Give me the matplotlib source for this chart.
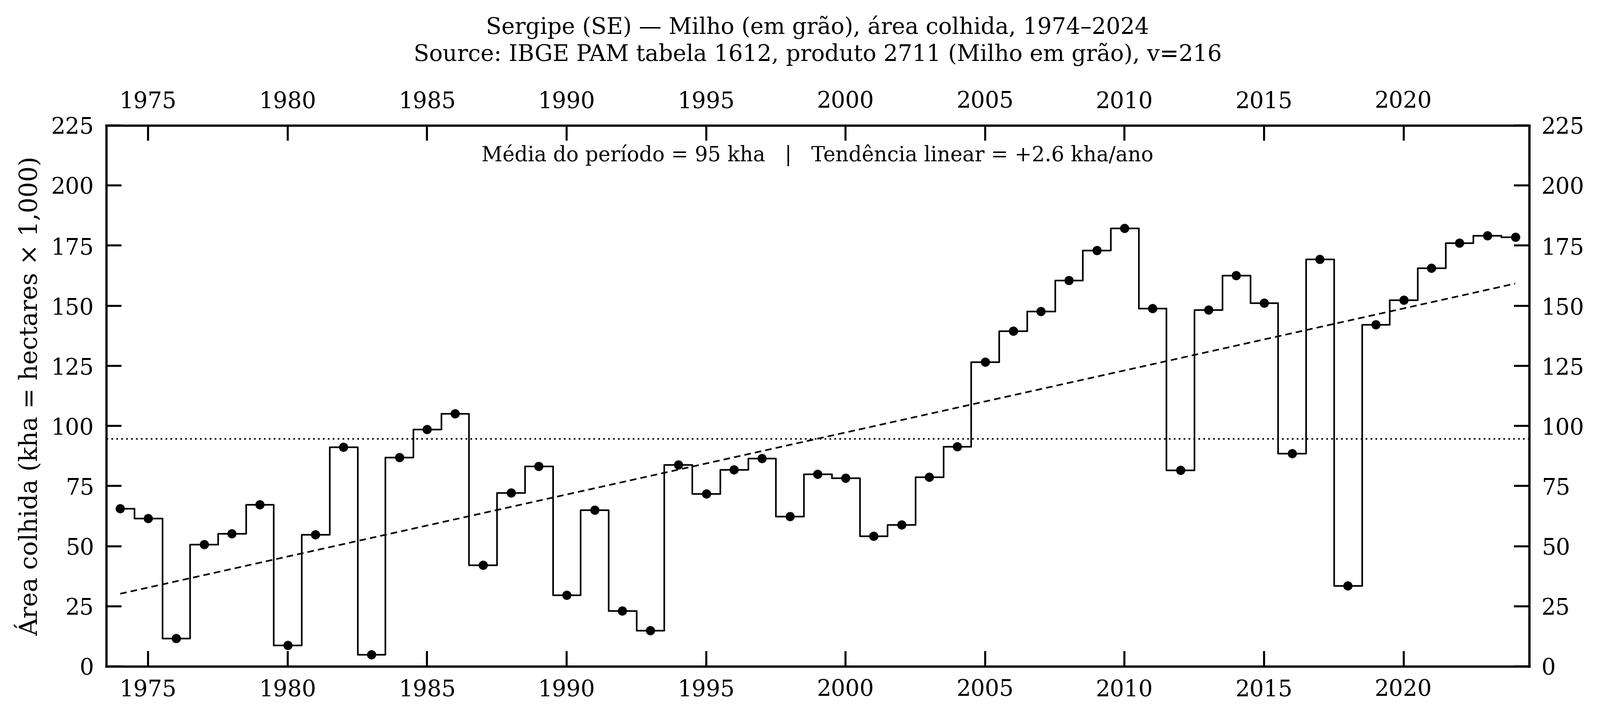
import numpy as np
import matplotlib
matplotlib.use("Agg")
import matplotlib.pyplot as plt

years = list(range(1974, 2025))
area_kha = [
    65.7, 61.6, 11.6, 50.7, 55.2, 67.2, 8.8, 54.9, 91.3, 4.8,
    87.0, 98.6, 105.1, 42.2, 72.1, 83.3, 29.7, 65.1, 23.2, 14.9,
    83.9, 71.8, 81.8, 86.6, 62.3, 79.9, 78.4, 54.1, 58.9, 78.7,
    91.5, 126.6, 139.5, 147.7, 160.6, 173.1, 182.3, 149.0, 81.6, 148.3,
    162.7, 151.1, 88.6, 169.4, 33.5, 142.2, 152.3, 165.7, 176.2, 179.1,
    178.5,
]
x_ticks = [1975, 1980, 1985, 1990, 1995, 2000, 2005, 2010, 2015, 2020]
y_ticks = [0, 25, 50, 75, 100, 125, 150, 175, 200, 225]

title = ("Sergipe (SE) \u2014 Milho (em gr\u00e3o), \u00e1rea colhida, 1974\u20132024\n"
         "Source: IBGE PAM tabela 1612, produto 2711 (Milho em gr\u00e3o), v=216")
ylabel = "\u00c1rea colhida (kha = hectares \u00d7 1,000)"

plt.rcParams['font.family'] = ['DejaVu Serif']

x = np.array(years, dtype=float)
y = np.array(area_kha)
mean = y.mean()
slope, intercept = np.polyfit(x, y, 1)

fig = plt.figure(figsize=(3254 / 300, 1456 / 300), dpi=300)
ax = fig.add_axes([0.0664, 0.0694, 0.9554 - 0.0664, 0.8249 - 0.0694])

ax.step(x, y, where='mid', color='black', lw=0.8)
ax.plot(x, y, 'o', color='black', ms=3.5)
ax.axhline(mean, color='black', lw=0.8, ls=(0, (1, 2)))
ax.plot(x, slope * x + intercept, color='black', lw=0.8, ls=(0, (4, 2.5)))

ax.set_xlim(1973.5, 2024.5)
ax.set_ylim(0, 225)
ax.set_xticks(x_ticks)
ax.set_yticks(y_ticks)
ax.tick_params(axis='both', which='major', direction='in', length=7.5, width=1.0,
               pad=6, labelsize=11, top=True, right=True,
               labeltop=True, labelright=True)
for s in ax.spines.values():
    s.set_linewidth(1.1)

ax.set_ylabel(ylabel, fontsize=12)
ax.set_title(title, fontsize=11, pad=14.5)
ax.text(0.5, 0.965,
        f"M\u00e9dia do per\u00edodo = {mean:.0f} kha   |   Tend\u00eancia linear = {slope:+.1f} kha/ano",
        transform=ax.transAxes, ha='center', va='top', fontsize=10)

fig.savefig("out.png", dpi=300)
